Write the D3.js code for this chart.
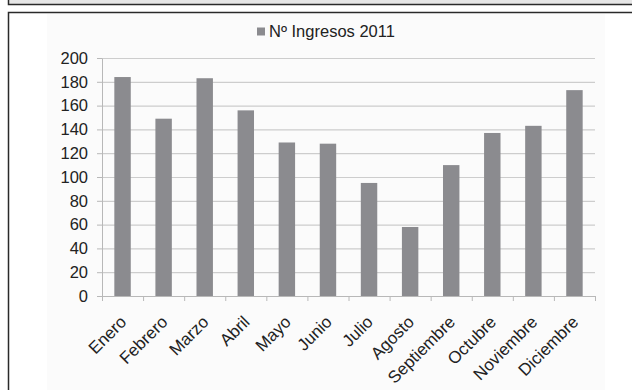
<!DOCTYPE html>
<html>
<head>
<meta charset="utf-8">
<script src="https://cdn.jsdelivr.net/npm/d3@7/dist/d3.min.js"></script>
<style>
  html, body { margin: 0; padding: 0; background: #fff; overflow: hidden; width: 632px; height: 390px; }
  svg { display: block; font-family: "Liberation Sans", Arial, sans-serif; }
</style>
</head>
<body>
<svg id="chart" width="632" height="390"></svg>
<script>
// Monthly admissions, 2011
const months = ["Enero", "Febrero", "Marzo", "Abril", "Mayo", "Junio",
                "Julio", "Agosto", "Septiembre", "Octubre", "Noviembre", "Diciembre"];
const ingresos = [184, 149, 183, 156, 129, 128, 95, 58, 110, 137, 143, 173];
const yTicks = [0, 20, 40, 60, 80, 100, 120, 140, 160, 180, 200];
const seriesName = "Nº Ingresos 2011";

const svg = d3.select("#chart");
const W = 632, H = 390;
const plot = { left: 102, right: 595, top: 58, bottom: 296 };

// page frame: header strip and the box around the chart
const frame = svg.append("g");
frame.append("rect").attr("x", 8.5).attr("y", -4).attr("width", W + 10).attr("height", 8.5)
  .attr("fill", "#e6e6e6").attr("stroke", "#2a2a2a").attr("stroke-width", 1.5);
frame.append("rect").attr("x", 8.5).attr("y", 12.5).attr("width", W + 10).attr("height", H + 10)
  .attr("fill", "#ffffff").attr("stroke", "#2a2a2a").attr("stroke-width", 1.5);
frame.append("rect").attr("x", 47).attr("y", 14).attr("width", 558).attr("height", H)
  .attr("fill", "#fbfbfb");

const x = d3.scaleBand().domain(months)
  .range([plot.left, plot.right]).paddingInner(0.6).paddingOuter(0.3);
const y = d3.scaleLinear().domain([0, 200]).range([plot.bottom, plot.top]);
const xEdges = d3.scaleLinear().domain([0, months.length]).range([plot.left, plot.right]);

// horizontal gridlines
svg.append("g")
  .attr("transform", `translate(${plot.left},0)`)
  .call(d3.axisLeft(y).tickValues(yTicks.slice(1)).tickSize(-(plot.right - plot.left)).tickFormat(""))
  .call(g => g.select(".domain").remove())
  .call(g => g.selectAll("line").attr("stroke", "#cdcdcd").attr("stroke-width", 1.2));

// bars
svg.append("g").selectAll("rect")
  .data(ingresos)
  .join("rect")
  .attr("x", (d, i) => x(months[i]))
  .attr("width", x.bandwidth())
  .attr("y", d => y(d))
  .attr("height", d => y(0) - y(d))
  .attr("fill", "#8b8b8f");

// y axis
svg.append("g")
  .attr("transform", `translate(${plot.left},0)`)
  .call(d3.axisLeft(y).tickValues(yTicks).tickSize(5).tickPadding(9).tickSizeOuter(0))
  .call(g => g.selectAll("line").attr("stroke", "#b8b8b8"))
  .call(g => g.select(".domain").attr("stroke", "#b8b8b8"))
  .call(g => g.selectAll("text").attr("fill", "#222").style("font-size", "16.5px")
    .style("font-family", "Liberation Sans, Arial, sans-serif"));

// x axis with ticks between categories
svg.append("g")
  .attr("transform", `translate(0,${plot.bottom})`)
  .call(d3.axisBottom(xEdges).tickValues(d3.range(months.length + 1)).tickSize(5).tickFormat("").tickSizeOuter(0))
  .call(g => g.selectAll("line").attr("stroke", "#b8b8b8"))
  .call(g => g.select(".domain").attr("stroke", "#b8b8b8"));

// rotated month labels
svg.append("g").selectAll("text")
  .data(months)
  .join("text")
  .attr("transform", d => `translate(${x(d) + x.bandwidth() / 2 + 5},${plot.bottom + 27}) rotate(-45)`)
  .attr("text-anchor", "end")
  .attr("fill", "#222")
  .style("font-size", "17px")
  .text(d => d);

// legend
const legend = svg.append("g");
legend.append("rect").attr("x", 257).attr("y", 27.5).attr("width", 8).attr("height", 8).attr("fill", "#8b8b8f");
legend.append("text").attr("x", 269).attr("y", 36.5).attr("fill", "#222")
  .style("font-size", "16.5px").text(seriesName);
</script>
</body>
</html>
